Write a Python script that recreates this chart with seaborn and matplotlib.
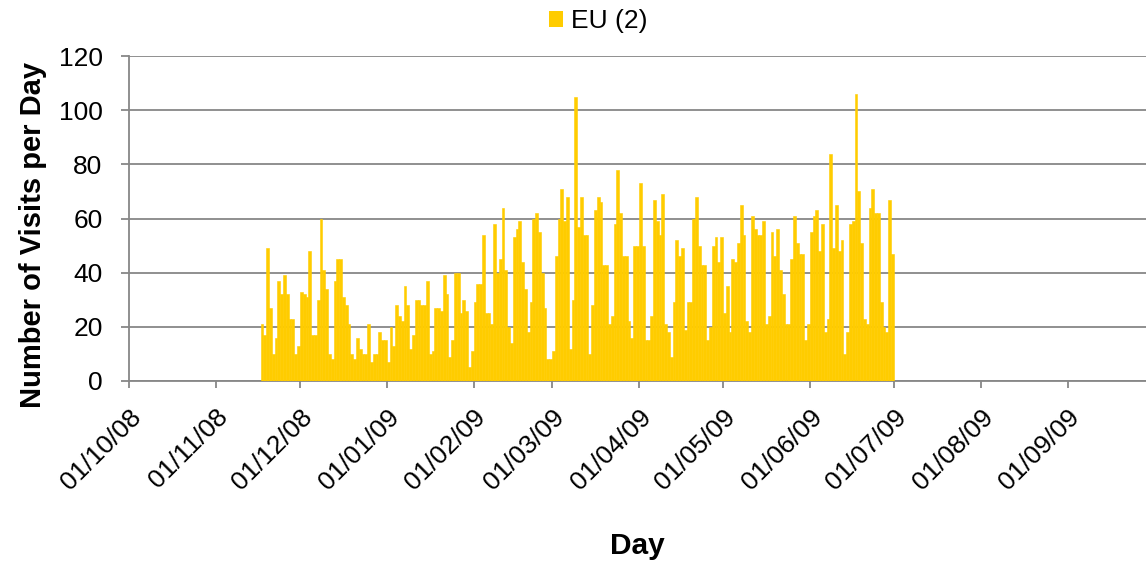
import numpy as np
import pandas as pd
import matplotlib
matplotlib.use("Agg")
import matplotlib.pyplot as plt
import matplotlib.dates as mdates
from matplotlib.patches import Patch
import seaborn as sns

# ---- data (daily visits, 17 Nov 2008 .. 30 Jun 2009) ----
series_name = "EU (2)"
start_date = "2008-11-17"
visits = [
    21, 17, 49, 27, 10, 16, 37, 32, 39, 32, 23, 23, 10, 13, 33, 32, 31, 48, 17, 17,
    30, 60, 41, 34, 10, 8, 37, 45, 45, 31, 28, 21, 10, 8, 16, 12, 10, 10, 21, 7,
    10, 10, 18, 15, 15, 7, 20, 13, 28, 24, 22, 35, 28, 12, 17, 30,
    30, 28, 28, 37, 10, 11, 27, 27, 26, 39, 32, 9, 15, 40, 40, 25, 30, 26, 5, 11,
    29, 36, 36, 54, 25, 25, 21, 58,
    40, 45, 64, 41, 20, 14, 53, 56, 59, 44, 34, 18, 29, 60, 62, 55, 40, 27, 8, 8,
    11, 46, 60, 71, 59, 68, 12, 30, 105, 57,
    68, 54, 54, 10, 28, 63, 68, 66, 43, 43, 21, 24, 58, 78, 62, 46, 46, 22, 16, 50,
    50, 73, 50, 15, 15, 24, 67, 59,
    54, 69, 21, 18, 9, 29, 52, 46, 49, 19, 29, 29, 60, 68, 50, 43, 43, 15, 20, 50,
    53, 44, 53, 25, 35, 18, 45, 44, 51,
    65, 54, 22, 18, 61, 56, 54, 54, 59, 21, 24, 55, 46, 56, 41, 32, 21, 21, 45, 61,
    51, 47, 47, 15, 21, 55, 61, 63,
    48, 58, 18, 23, 84, 49, 65, 48, 52, 10, 18, 58, 59, 106, 70, 51, 23, 21, 64, 71,
    62, 62, 29, 20, 18, 67, 47,
]
y_ticks = [0, 20, 40, 60, 80, 100, 120]
x_tick_months = pd.date_range("2008-10-01", "2009-09-01", freq="MS")
x_label = "Day"
y_label = "Number of Visits per Day"

bar_color = "#FFCC00"
grid_color = "#878787"

dates = pd.date_range(start_date, periods=len(visits), freq="D")
df = pd.DataFrame({"date": dates, "visits": visits})
df["xnum"] = mdates.date2num(df["date"]) + 0.5   # bar centred inside its day

sns.set_style("white")
plt.rcParams["font.family"] = ["Liberation Sans", "DejaVu Sans"]
plt.rcParams["text.color"] = "black"
plt.rcParams["axes.labelcolor"] = "black"

fig = plt.figure(figsize=(11.46, 5.67), dpi=100)
ax = fig.add_axes([129 / 1146, 1 - 381 / 567, (1146 - 129) / 1146, (381 - 56) / 567])

sns.histplot(data=df, x="xnum", weights="visits", discrete=True, color=bar_color,
             alpha=1, edgecolor=bar_color, linewidth=0.4, ax=ax, zorder=3)

x0 = mdates.date2num(pd.Timestamp("2008-10-01"))
ax.set_xlim(x0, x0 + 363)
ax.set_ylim(0, 120)
ax.set_yticks(y_ticks)
ax.set_xticks(mdates.date2num(x_tick_months))
ax.xaxis.set_major_formatter(mdates.DateFormatter("%d/%m/%y"))

ax.grid(False)
ax.yaxis.grid(True, color=grid_color, linewidth=1.3)
ax.set_axisbelow(True)
for s in ["top", "right"]:
    ax.spines[s].set_visible(False)
for s in ["left", "bottom"]:
    ax.spines[s].set_color(grid_color)
    ax.spines[s].set_linewidth(1.3)

ax.tick_params(axis="y", direction="out", length=6, width=1.3, color=grid_color,
               labelcolor="black", labelsize=19, pad=13, left=True)
ax.tick_params(axis="x", direction="out", length=5, width=1.3, color=grid_color,
               labelcolor="black", labelsize=19, pad=12, bottom=True)
for lab in ax.get_xticklabels():
    lab.set_rotation(45)
    lab.set_ha("right")
    lab.set_rotation_mode("anchor")

ax.set_xlabel(x_label, fontsize=21.5, fontweight="bold")
ax.set_ylabel(y_label, fontsize=21, fontweight="bold")
ax.xaxis.set_label_coords(0.5, -0.465)
ax.xaxis.label.set_va("top")
ax.yaxis.set_label_coords(-0.081, 0.45)

handle = Patch(facecolor=bar_color, edgecolor="none")
fig.legend(handles=[handle], labels=[series_name], loc="center",
           bbox_to_anchor=(598 / 1146, 1 - 21 / 567), frameon=False,
           fontsize=19, handlelength=0.55, handleheight=0.55, handletextpad=0.3,
           labelcolor="black")

fig.savefig("out.png", dpi=100)
